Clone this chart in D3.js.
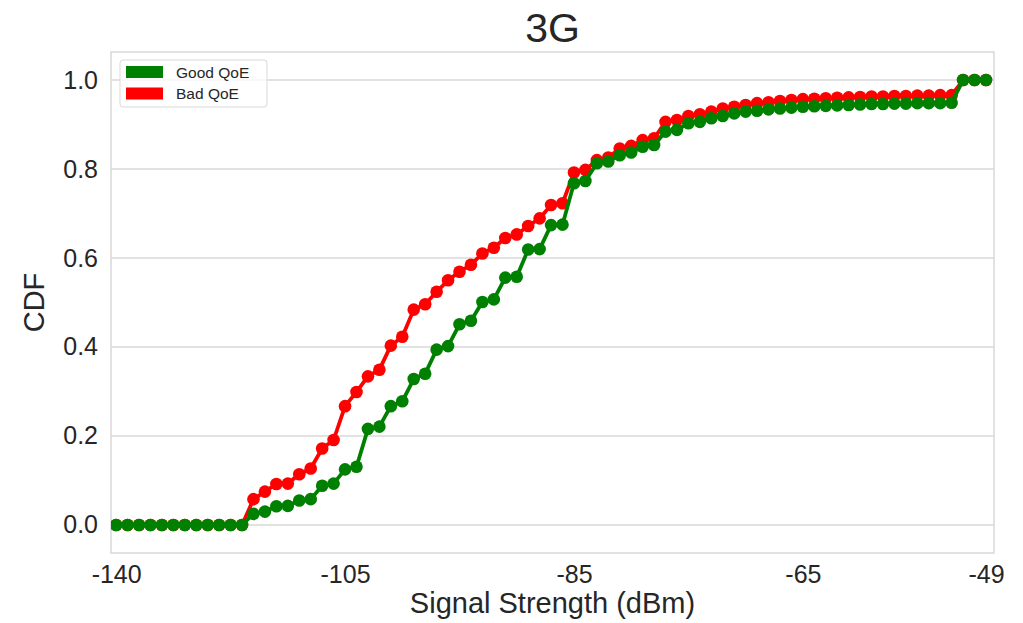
<!DOCTYPE html>
<html>
<head>
<meta charset="utf-8">
<script src="https://cdn.jsdelivr.net/npm/d3@7"></script>
<style>
    body { margin: 0; padding: 0; background: #fff; }
    text { font-family: 'Liberation Sans', Arial, sans-serif; fill: #262626; }
</style>
</head>
<body>
<div id="main"></div>
<script>
// signal strength bins are evenly spaced in the plot, only a few are labelled
const xTickIndex = [0, 20, 40, 60, 76];
const xTickLabels = ['-140', '-105', '-85', '-65', '-49'];
const yTicks = [0, 0.2, 0.4, 0.6, 0.8, 1.0];
const seriesNames = ['Good QoE', 'Bad QoE'];

const goodQoE = [
    0, 0, 0, 0, 0, 0, 0, 0, 0, 0, 0, 0,
    0.025, 0.030, 0.042, 0.043, 0.055, 0.058, 0.088, 0.093, 0.125, 0.131,
    0.216, 0.221, 0.267, 0.278, 0.328, 0.340, 0.394, 0.402, 0.451, 0.459,
    0.501, 0.507, 0.556, 0.558, 0.619, 0.620, 0.674, 0.675, 0.768, 0.773,
    0.813, 0.817, 0.831, 0.837, 0.850, 0.854, 0.884, 0.888, 0.903, 0.906,
    0.914, 0.919, 0.925, 0.929, 0.931, 0.934, 0.936, 0.938, 0.940, 0.941,
    0.942, 0.943, 0.944, 0.945, 0.946, 0.946, 0.947, 0.947, 0.948, 0.948,
    0.948, 0.949, 1, 1, 1
];
const badQoE = [
    0, 0, 0, 0, 0, 0, 0, 0, 0, 0, 0, 0,
    0.058, 0.075, 0.092, 0.093, 0.114, 0.127, 0.172, 0.191, 0.267, 0.299,
    0.334, 0.349, 0.403, 0.423, 0.484, 0.496, 0.524, 0.550, 0.569, 0.585,
    0.610, 0.623, 0.645, 0.653, 0.672, 0.689, 0.719, 0.723, 0.792, 0.798,
    0.820, 0.826, 0.846, 0.852, 0.865, 0.869, 0.906, 0.910, 0.919, 0.923,
    0.929, 0.936, 0.940, 0.944, 0.948, 0.950, 0.953, 0.955, 0.957, 0.958,
    0.959, 0.960, 0.961, 0.962, 0.963, 0.963, 0.964, 0.964, 0.965, 0.965,
    0.966, 0.966, 1, 1, 1
];

const cdfPlot = (parentSelector, props) => {
    const { width: WIDTH, height: HEIGHT, left: LEFT, right: RIGHT, top: TOP, bottom: BOTTOM, grid: GRID } = props;
    const scaleX = d3.scaleLinear()
        .domain([-0.45, goodQoE.length - 1 + 0.7])
        .range([LEFT, RIGHT]);
    const scaleY = d3.scaleLinear()
        .domain([-0.063, 1.063])
        .range([BOTTOM, TOP]);

    const canvas = d3.select(parentSelector).append('svg')
        .attr('width', WIDTH)
        .attr('height', HEIGHT)
        .attr('style', 'display: block');

    // horizontal grid only, like seaborn whitegrid here
    canvas.append('g')
        .attr('id', 'y-grid')
        .selectAll('line').data(yTicks).enter().append('line')
        .attr('x1', LEFT)
        .attr('x2', RIGHT)
        .attr('y1', (d) => scaleY(d))
        .attr('y2', (d) => scaleY(d))
        .attr('stroke', GRID)
        .attr('stroke-width', 1.5);

    canvas.append('rect')
        .attr('x', LEFT)
        .attr('y', TOP)
        .attr('width', RIGHT - LEFT)
        .attr('height', BOTTOM - TOP)
        .attr('fill', 'none')
        .attr('stroke', GRID)
        .attr('stroke-width', 1.5);

    const axisX = d3.axisBottom(scaleX)
        .tickValues(xTickIndex)
        .tickFormat((d, i) => xTickLabels[i])
        .tickSize(0)
        .tickPadding(12);
    const axisY = d3.axisLeft(scaleY)
        .tickValues(yTicks)
        .tickFormat(d3.format('.1f'))
        .tickSize(0)
        .tickPadding(13);
    const gx = canvas.append('g')
        .attr('id', 'x-axis')
        .attr('transform', `translate(0, ${BOTTOM})`)
        .call(axisX);
    const gy = canvas.append('g')
        .attr('id', 'y-axis')
        .attr('transform', `translate(${LEFT}, 0)`)
        .call(axisY);
    [gx, gy].forEach((g) => {
        g.select('.domain').remove();
        g.selectAll('text')
            .attr('font-size', 25)
            .attr('font-family', "'Liberation Sans', Arial, sans-serif")
            .attr('fill', '#262626');
    });

    const clip = canvas.append('clipPath').attr('id', 'plot-clip');
    clip.append('rect')
        .attr('x', LEFT)
        .attr('y', TOP - 10)
        .attr('width', RIGHT - LEFT)
        .attr('height', BOTTOM - TOP + 10);

    const lineGen = d3.line()
        .x((d, i) => scaleX(i))
        .y((d) => scaleY(d));

    // bad drawn first, good sits on top
    const series = [
        { name: seriesNames[1], values: badQoE, color: '#ff0000' },
        { name: seriesNames[0], values: goodQoE, color: '#008000' }
    ];
    const plot = canvas.append('g').attr('clip-path', 'url(#plot-clip)');
    series.forEach((s) => {
        const g = plot.append('g').attr('class', 'series');
        g.append('path')
            .datum(s.values)
            .attr('d', lineGen)
            .attr('fill', 'none')
            .attr('stroke', s.color)
            .attr('stroke-width', 3.8)
            .attr('stroke-linejoin', 'round');
        g.selectAll('circle').data(s.values).enter().append('circle')
            .attr('cx', (d, i) => scaleX(i))
            .attr('cy', (d) => scaleY(d))
            .attr('r', 6.3)
            .attr('fill', s.color);
    });

    canvas.append('text')
        .text('3G')
        .attr('x', (LEFT + RIGHT) / 2)
        .attr('y', 42)
        .attr('text-anchor', 'middle')
        .attr('font-size', 41);
    canvas.append('text')
        .text('Signal Strength (dBm)')
        .attr('x', (LEFT + RIGHT) / 2)
        .attr('y', 613)
        .attr('text-anchor', 'middle')
        .attr('font-size', 29);
    canvas.append('text')
        .text('CDF')
        .attr('transform', `translate(44, ${(TOP + BOTTOM) / 2}) rotate(-90)`)
        .attr('text-anchor', 'middle')
        .attr('font-size', 29);

    // legend
    const legend = canvas.append('g').attr('id', 'legend');
    legend.append('rect')
        .attr('x', 120)
        .attr('y', 60)
        .attr('width', 147)
        .attr('height', 47)
        .attr('rx', 3)
        .attr('fill', '#fff')
        .attr('fill-opacity', 0.8)
        .attr('stroke', GRID)
        .attr('stroke-width', 1);
    const legendItems = legend.selectAll('g.item').data([series[1], series[0]]).enter().append('g')
        .attr('class', 'item')
        .attr('transform', (d, i) => `translate(126, ${66 + i * 21.5})`);
    legendItems.append('rect')
        .attr('width', 37)
        .attr('height', 12)
        .attr('fill', (d) => d.color);
    legendItems.append('text')
        .text((d) => d.name)
        .attr('x', 50)
        .attr('y', 11.5)
        .attr('font-size', 15.5);
};

cdfPlot('#main', {
    width: 1023,
    height: 623,
    left: 111,
    right: 994,
    top: 52,
    bottom: 553,
    grid: '#d9d9d9'
});
</script>
</body>
</html>
